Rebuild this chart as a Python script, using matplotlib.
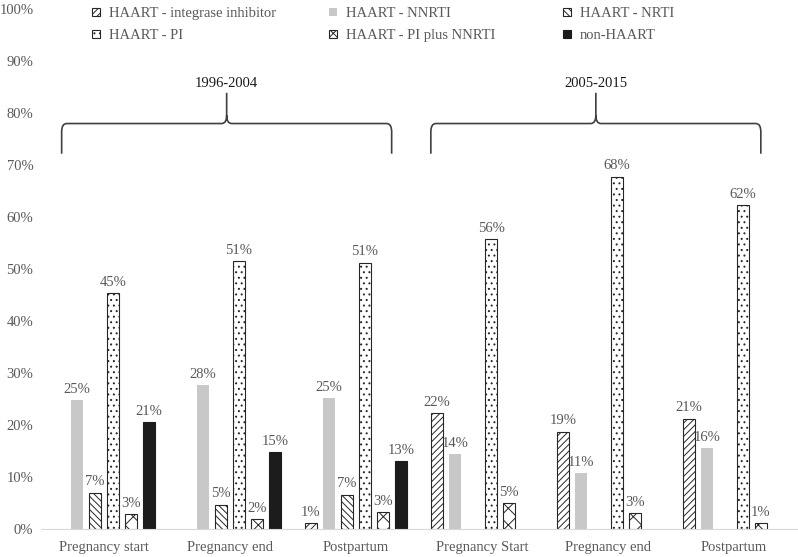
import numpy as np
import matplotlib
matplotlib.use("Agg")
import matplotlib.pyplot as plt
from matplotlib.path import Path
from matplotlib.patches import PathPatch, Patch

plt.rcParams['font.family'] = ['Liberation Serif', 'DejaVu Serif']
plt.rcParams['hatch.linewidth'] = 0.7

# data (percent)
categories = ["Pregnancy start", "Pregnancy end", "Postpartum",
              "Pregnancy Start", "Pregnancy end", "Postpartum"]
periods = ["1996-2004", "2005-2015"]
series = ["HAART - integrase inhibitor", "HAART - NNRTI", "HAART - NRTI",
          "HAART - PI", "HAART - PI plus NNRTI", "non-HAART"]
integrase = [0, 0, 1.1, 22.3, 18.7, 21.2]
nnrti = [24.8, 27.6, 25.1, 14.4, 10.8, 15.6]
nrti = [7.0, 4.7, 6.6, 0, 0, 0]
pi = [45.3, 51.4, 51.2, 55.7, 67.7, 62.3]
pi_nnrti = [2.8, 1.9, 3.3, 4.9, 3.0, 1.2]
non_haart = [20.6, 14.7, 13.1, 0, 0, 0]
values = [integrase, nnrti, nrti, pi, pi_nnrti, non_haart]

styles = [
    dict(facecolor="white", edgecolor="#262626", hatch="/////", linewidth=0.8),
    dict(facecolor="#c8c8c8", edgecolor="none", linewidth=0),
    dict(facecolor="white", edgecolor="#262626", hatch="\\\\\\\\\\", linewidth=0.8),
    dict(facecolor="white", edgecolor="#262626", hatch="...", linewidth=0.8),
    dict(facecolor="white", edgecolor="#262626", hatch="xx", linewidth=0.8),
    dict(facecolor="#1c1c1c", edgecolor="#1c1c1c", linewidth=0.8),
]

gray = "#595959"

fig = plt.figure(figsize=(7.98, 5.57), dpi=100)
ax = fig.add_axes([41 / 798, 28 / 557, 756 / 798, 520.5 / 557])

x = np.arange(len(categories))
slot = 0.143
width = 0.1
for i, (vals, st) in enumerate(zip(values, styles)):
    offs = (i - 2.5) * slot
    vals = np.array(vals, dtype=float)
    keep = vals > 0
    bars = ax.bar(x[keep] + offs, vals[keep], width=width, **st)
    for b, v in zip(bars, vals[keep]):
        ax.annotate(f"{v:.0f}%", (b.get_x() + b.get_width() / 2, v),
                    xytext=(0, 3), textcoords="offset points",
                    ha="center", va="bottom", color=gray, fontsize=10.5)


def brace(ax, x0, x1, xm, y_end, y_bar, y_tip, rx=0.04, ry=1.6):
    verts = [(x0, y_end), (x0, y_bar - ry), (x0, y_bar), (x0 + rx, y_bar),
             (xm - rx, y_bar), (xm, y_bar), (xm, y_bar + ry), (xm, y_tip),
             (xm, y_bar + ry), (xm, y_bar), (xm + rx, y_bar),
             (x1 - rx, y_bar), (x1, y_bar), (x1, y_bar - ry), (x1, y_end)]
    codes = [Path.MOVETO, Path.LINETO, Path.CURVE3, Path.CURVE3,
             Path.LINETO, Path.CURVE3, Path.CURVE3, Path.LINETO,
             Path.MOVETO, Path.CURVE3, Path.CURVE3,
             Path.LINETO, Path.CURVE3, Path.CURVE3, Path.LINETO]
    ax.add_patch(PathPatch(Path(verts, codes), facecolor="none",
                           edgecolor="#404040", linewidth=1.2, clip_on=False))


for k, label in enumerate(periods):
    start = k * 2.93 - 0.336
    end = start + 2.619
    mid = (start + end) / 2
    brace(ax, start, end, mid, 72.1, 77.9, 83.8)
    ax.text(mid, 85.6, label, ha="center", va="center", fontsize=10.5,
            color="#1a1a1a")

ax.set_xlim(-0.5, 5.5)
ax.set_ylim(0, 100)
ax.set_yticks(np.arange(0, 101, 10))
ax.set_yticklabels([f"{t}%" for t in range(0, 101, 10)])
ax.set_xticks(x)
ax.set_xticklabels(categories)
ax.tick_params(axis="both", length=0, colors=gray, labelsize=10.5)
ax.tick_params(axis="y", pad=5.5)
ax.tick_params(axis="x", pad=9)
for s in ["top", "right", "left"]:
    ax.spines[s].set_visible(False)
ax.spines["bottom"].set_color("#d9d9d9")

# legend: three columns of two entries, like the Excel layout
handles = [Patch(label=n, **st) for n, st in zip(series, styles)]
col_x = [83 / 798, 320 / 798, 554.5 / 798]
for c in range(3):
    fig.legend(handles=[handles[c], handles[c + 3]],
               loc="upper left", bbox_to_anchor=(col_x[c], 1.003), frameon=False,
               fontsize=10.5, labelcolor=gray, handlelength=0.55, handleheight=0.55,
               handletextpad=0.6, labelspacing=0.62, borderpad=0.1)

fig.savefig("out.png", dpi=100)
